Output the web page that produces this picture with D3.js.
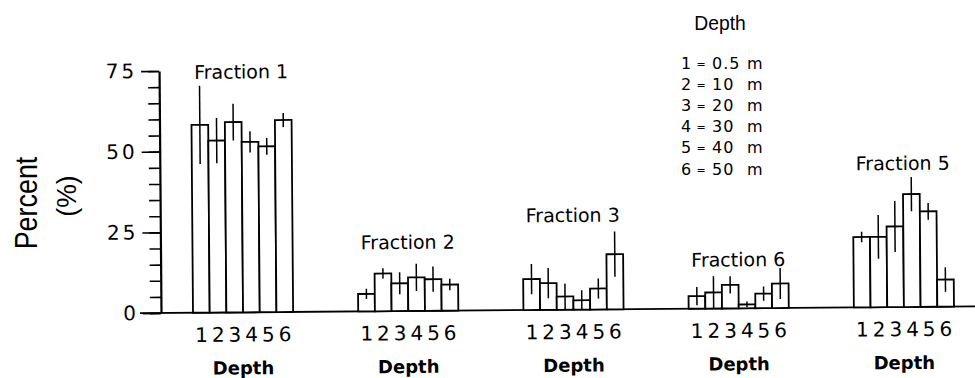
<!DOCTYPE html>
<html lang="en">
<head>
  <meta charset="UTF-8">
  <title>Fractions by depth</title>
  <style>
    html, body {
      background-color: #ffffff;
      margin: 0;
    }
    svg {
      display: block;
    }
    .bar {
      fill: #ffffff;
      stroke: #000000;
      stroke-width: 1.8;
    }
    .err {
      stroke: #000000;
      stroke-width: 1.5;
    }
    .lettering {
      font-family: "DejaVu Sans", sans-serif;
      fill: #000000;
    }
  </style>
</head>
<body>
  <script src="https://cdnjs.cloudflare.com/ajax/libs/d3/7.8.5/d3.min.js"></script>
  <script>
    // values (percent), one array per fraction, depths 1..6
    const fractions = ['Fraction 1', 'Fraction 2', 'Fraction 3', 'Fraction 6', 'Fraction 5'];
    const depths = ['1', '2', '3', '4', '5', '6'];
    const depthMeters = ['0.5 m', '10 m', '20 m', '30 m', '40 m', '50 m'];
    const yTicks = [0, 25, 50, 75];

    const fraction1 = [58.2, 53.3, 59.0, 52.8, 51.4, 59.5];
    const fraction1Err = [12.1, 7.0, 5.7, 3.3, 2.6, 2.2];
    const fraction2 = [5.4, 11.7, 8.6, 10.4, 9.8, 8.1];
    const fraction2Err = [1.6, 1.6, 3.4, 4.2, 3.9, 1.8];
    const fraction3 = [9.6, 8.3, 4.1, 2.9, 6.5, 17.1];
    const fraction3Err = [4.7, 4.7, 4.0, 3.1, 3.1, 7.0];
    const fraction6 = [3.9, 5.0, 7.3, 1.2, 4.5, 7.6];
    const fraction6Err = [2.8, 5.0, 2.7, 0.9, 2.2, 4.8];
    const fraction5 = [21.8, 21.8, 25.0, 35.0, 29.6, 8.4];
    const fraction5Err = [1.6, 6.8, 7.9, 5.3, 2.6, 3.8];

    const values = [fraction1, fraction2, fraction3, fraction6, fraction5];
    const errors = [fraction1Err, fraction2Err, fraction3Err, fraction6Err, fraction5Err];
    const labelGap = [7, 15, 10, 2, 7]; // px between top error bar and group title

    const width = 975;
    const height = 378;

    const svg = d3.select('body').append('svg')
      .attr('width', width)
      .attr('height', height);

    const y = d3.scaleLinear().domain([0, 75]).range([313, 71]);
    const x = d3.scaleBand().domain(fractions).range([193, 954]).paddingInner(0.394);
    const xDepth = d3.scaleBand().domain(depths).range([0, x.bandwidth()]);

    const groups = fractions.map((name, i) => ({
      name: name,
      gap: labelGap[i],
      bars: depths.map((d, j) => ({ depth: d, value: values[i][j], err: errors[i][j] }))
    }));

    // the scanned figure sits slightly tilted, keep that
    const chart = svg.append('g')
      .attr('transform', `rotate(-0.46, 161, ${y(0)})`);

    /**
     * Y axis
     */
    chart.append('g')
      .attr('transform', 'translate(161,0)')
      .call(d3.axisLeft(y).tickValues(d3.range(0, 76, 5)).tickSize(11).tickSizeOuter(0).tickFormat(''))
      .call(g => g.select('.domain').remove())
      .call(g => g.selectAll('line').attr('stroke-width', 1.6));

    const yAxis = chart.append('g')
      .attr('transform', 'translate(161,0)')
      .call(d3.axisLeft(y).tickValues(yTicks).tickSize(18).tickSizeOuter(0).tickPadding(4));
    yAxis.select('.domain').attr('stroke-width', 2.2);
    yAxis.selectAll('line').attr('stroke-width', 1.6);
    yAxis.selectAll('text')
      .attr('class', 'lettering')
      .style('font-size', '20px')
      .style('letter-spacing', '3px');

    chart.append('line')
      .attr('x1', 140)
      .attr('x2', width + 10)
      .attr('y1', y(0))
      .attr('y2', y(0))
      .attr('stroke', '#000')
      .attr('stroke-width', 1.8);

    /**
     * Bars per fraction
     */
    const group = chart.selectAll('g.fraction')
      .data(groups)
      .join('g')
      .attr('class', 'fraction')
      .attr('transform', d => `translate(${x(d.name)},0)`);

    group.selectAll('rect.bar')
      .data(d => d.bars)
      .join('rect')
      .attr('class', 'bar')
      .attr('x', d => xDepth(d.depth))
      .attr('y', d => y(d.value))
      .attr('width', xDepth.bandwidth())
      .attr('height', d => y(0) - y(d.value));

    group.selectAll('line.err')
      .data(d => d.bars)
      .join('line')
      .attr('class', 'err')
      .attr('x1', d => xDepth(d.depth) + xDepth.bandwidth() / 2)
      .attr('x2', d => xDepth(d.depth) + xDepth.bandwidth() / 2)
      .attr('y1', d => y(Math.min(75, d.value + d.err)))
      .attr('y2', d => y(Math.max(0, d.value - d.err)));

    group.append('text')
      .attr('class', 'lettering')
      .attr('x', x.bandwidth() / 2)
      .attr('y', d => y(d3.max(d.bars, b => b.value + b.err)) - d.gap)
      .attr('text-anchor', 'middle')
      .style('font-size', '19px')
      .text(d => d.name);

    group.append('g')
      .attr('transform', `translate(0,${y(0)})`)
      .call(d3.axisBottom(xDepth).tickSize(0).tickPadding(15))
      .call(g => g.select('.domain').remove())
      .selectAll('text')
      .attr('class', 'lettering')
      .style('font-size', '20px');

    group.append('text')
      .attr('class', 'lettering')
      .attr('x', x.bandwidth() / 2)
      .attr('y', y(0) + 62)
      .attr('text-anchor', 'middle')
      .style('font-size', '18px')
      .style('font-weight', 'bold')
      .text('Depth');

    /**
     * Y title (condensed by a horizontal squeeze, no narrow face installed)
     */
    svg.append('text')
      .attr('transform', 'translate(37,203) rotate(-90) scale(0.84,1)')
      .attr('text-anchor', 'middle')
      .style('font-family', '"Liberation Sans", sans-serif')
      .style('font-size', '32px')
      .text('Percent');

    svg.append('text')
      .attr('transform', 'translate(76,196) rotate(-90) scale(0.95,1)')
      .attr('text-anchor', 'middle')
      .style('font-family', '"Liberation Sans", sans-serif')
      .style('font-size', '28px')
      .text('(%)');

    /**
     * Depth key
     */
    const key = svg.append('g');

    key.append('text')
      .attr('transform', 'translate(720,30) scale(0.92,1)')
      .attr('text-anchor', 'middle')
      .style('font-family', '"Liberation Sans", sans-serif')
      .style('font-size', '21px')
      .text('Depth');

    const keyRow = key.selectAll('g.key-row')
      .data(depths.map((d, i) => ({ depth: d, meters: depthMeters[i] })))
      .join('g')
      .attr('class', 'key-row lettering')
      .attr('transform', (d, i) => `translate(0,${69 + i * 21.1})`)
      .style('font-size', '16px');

    keyRow.append('text')
      .attr('x', 686)
      .attr('text-anchor', 'middle')
      .text(d => d.depth);

    keyRow.append('text')
      .attr('x', 701)
      .attr('y', -1)
      .attr('text-anchor', 'middle')
      .style('font-size', '11px')
      .text('=');

    keyRow.append('text')
      .attr('x', 712)
      .style('letter-spacing', '1px')
      .text(d => d.meters.split(' ')[0]);

    keyRow.append('text')
      .attr('x', 747)
      .text(d => d.meters.split(' ')[1]);
  </script>
</body>
</html>
